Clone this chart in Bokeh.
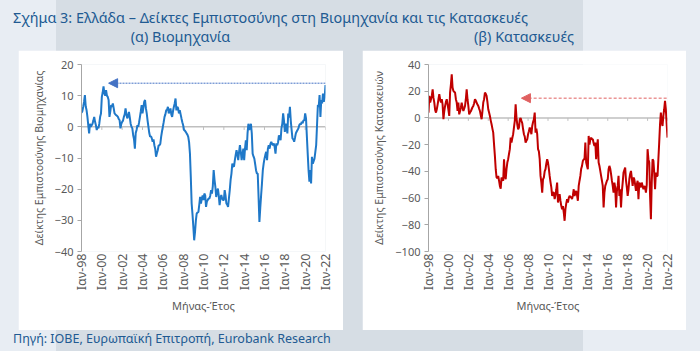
import math
from bokeh.plotting import figure
from bokeh.models import FixedTicker, Span, Arrow, NormalHead, Div, Spacer, Range1d
from bokeh.layouts import row, column
from bokeh.embed import file_html
from bokeh.resources import INLINE

# ---------------- data ----------------
main_title = "Σχήμα 3: Ελλάδα – Δείκτες Εμπιστοσύνης στη Βιομηχανία και τις Κατασκευές"
sub_a = "(α) Βιομηχανία"
sub_b = "(β) Κατασκευές"
source_text = "Πηγή: ΙΟΒΕ, Ευρωπαϊκή Επιτροπή, Eurobank Research"
x_title = "Μήνας-Έτος"
y_title_a = "Δείκτης Εμπιστοσύνης Βιομηχανίας"
y_title_b = "Δείκτης Εμπιστοσύνης Κατασκευών"

# x ticks: month index from Jan 1998 (every two years)
tick_idx = [0, 24, 48, 72, 96, 120, 144, 168, 192, 216, 240, 264, 288]
tick_labels = ["Ιαν-98", "Ιαν-00", "Ιαν-02", "Ιαν-04", "Ιαν-06", "Ιαν-08", "Ιαν-10",
               "Ιαν-12", "Ιαν-14", "Ιαν-16", "Ιαν-18", "Ιαν-20", "Ιαν-22"]

yticks_a = [-40, -30, -20, -10, 0, 10, 20]
yticks_b = [-100, -80, -60, -40, -20, 0, 20, 40]

# Industry confidence, monthly Jan-1998 .. Jan-2022
industry = [
    4.5, 5.0, 6.4, 8.0, 10.2, 6.5, 5.3, 3.2, 0.5, -2.1, 1.0, 0.0,          # 1998
    0.5, 1.0, 2.0, 3.2, 1.6, 0.5, -1.0, 0.0, -0.5, 1.0, 3.2, 4.3,          # 1999
    9.6, 11.0, 13.0, 10.7, 10.0, 11.8, 10.0, 9.6, 8.6, 3.2, 5.0, 7.0,      # 2000
    6.4, 7.5, 6.0, 4.3, 4.0, 3.7, 3.5, 3.2, 2.5, 2.1, -0.5, 1.0,           # 2001
    1.6, 2.0, 3.2, 4.0, 5.9, 4.0, 2.7, 3.5, 4.8, 3.0, 1.0, 0.0,            # 2002
    -0.5, -2.7, -4.0, -7.0, -2.0, -1.0, 0.5, 0.0, 1.5, 3.2, 5.0, 7.0,      # 2003
    4.3, 6.0, 8.0, 8.6, 6.0, 4.3, 2.0, 0.0, -2.0, -3.2, -3.0, -3.7,        # 2004
    -4.8, -4.0, -5.9, -7.0, -9.6, -8.5, -7.5, -6.0, -5.9, -5.5, -3.2, -1.5,  # 2005
    0.0, 1.5, 3.2, 4.0, 5.3, 5.5, 6.4, 4.3, 5.0, 5.9, 4.0, 3.2,            # 2006
    5.0, 6.4, 7.5, 9.1, 5.3, 6.4, 6.0, 4.3, 5.3, 4.0, 2.7, 1.5,            # 2007
    0.5, -1.0, -1.2, -1.6, -2.1, -2.5, -3.2, -5.0, -8.6, -16.0, -24.6, -28.0,  # 2008
    -32.0, -36.4, -33.7, -30.0, -27.8, -27.5, -27.3, -25.0, -22.5, -24.6, -23.0, -22.0,  # 2009
    -23.5, -21.4, -22.0, -25.7, -24.0, -23.5, -23.0, -23.0, -22.0, -20.3, -21.4, -19.0,  # 2010
    -13.9, -17.0, -19.3, -22.5, -21.0, -19.8, -22.0, -25.1, -23.0, -21.9, -23.0, -23.5,  # 2011
    -23.5, -20.3, -22.0, -24.6, -25.0, -25.7, -23.0, -20.3, -17.0, -15.0, -11.8, -12.5,  # 2012
    -12.8, -10.7, -9.0, -7.5, -9.0, -10.7, -8.0, -5.9, -8.0, -10.7, -9.0, -7.0,  # 2013
    -10.7, -7.0, -4.3, -7.5, -2.0, 1.0, -1.0, 0.0, 1.0, -2.1, -8.6, -9.5,  # 2014
    -10.2, -12.0, -13.9, -15.0, -15.0, -22.5, -30.5, -26.0, -22.0, -18.2, -14.0, -11.8,  # 2015
    -10.2, -9.0, -8.0, -10.7, -7.0, -5.9, -7.0, -5.5, -4.8, -5.5, -5.9, -5.3,  # 2016
    -6.5, -8.6, -5.3, -5.9, -5.0, -2.7, -3.5, -4.3, -0.5, 1.0, 4.3, 2.0,   # 2017
    -1.6, 1.0, 0.0, -2.1, 4.3, 3.0, 6.4, 2.0, -1.0, -3.7, -4.0, -4.8,      # 2018
    -3.5, -2.1, -1.5, -1.0, -0.5, 0.5, 1.0, 0.8, 1.6, 1.2, 2.1, 2.0,       # 2019
    4.3, 2.7, -3.0, -8.6, -13.9, -17.6, -13.9, -18.2, -9.6, -11.8, -11.0, -10.2,  # 2020
    -8.0, -5.9, 0.5, 7.0, 6.4, 10.2, 3.2, 8.6, 7.5, 10.7, 8.0, 9.5,        # 2021
    13.4,                                                                  # 2022
]

# Construction confidence, monthly Jan-1998 .. Jan-2022
construction = [
    4, 16.5, 11.5, 14, 16.5, 21.4, 15, 11.5, 6, 4, 6.5, 10,                # 1998
    14, 17.7, 14, 11.5, 14, 10, -1, 5, 9, 12, 14, 10.2,                    # 1999
    6, 1.5, 19, 25, 32.7, 22.7, 20.2, 19.5, 19, 14, 11.5, 5.2,             # 2000
    11.5, 2.7, 5, 7.7, 11.5, 8, 5.2, 7, 9, 14, 21.4, 14,                   # 2001
    9, 2.7, 4, 5, 6.5, 8, 9, 11, 14, 13, 11.5, 10,                         # 2002
    9, 7, 5.2, 2, -1, 5, 11.5, 14, 19, 18, 16.5, 12,                       # 2003
    6.5, 4, 1.5, -2, -4.7, -8, -11, -20, -28.4, -38.4, -44.6, -45,         # 2004
    -43.4, -47, -50.9, -53, -44.6, -46, -47, -30.9, -43.4, -45.9, -38.4, -33.4,  # 2005
    -30.9, -27, -23.4, -14.7, -18.5, -15, -12.2, -7, -2.2, 10.2, 0.2, -5,  # 2006
    -8.5, -7.2, -1, 0, -2.2, -4, -8.5, -12.2, -14, -18.5, -17, -16,        # 2007
    -12.2, -10, -7.2, -9, -12.2, -6, -3, -1, 4, -11, -8, -12.2,            # 2008
    -23.4, -25, -30.9, -43.4, -48.4, -55.9, -45.9, -44.6, -40, -38.4, -34, -30.9,  # 2009
    -33.4, -38, -43.4, -48, -52, -58.4, -56, -55.9, -60.8, -58, -53.4, -48.4,  # 2010
    -63.3, -60, -57.1, -62, -65.8, -68.3, -66, -70.8, -77, -68.3, -64, -60.8,  # 2011
    -63.3, -60, -58.4, -59, -59.6, -60.8, -58, -53.4, -58.4, -56, -54.6, -58,  # 2012
    -62, -50.9, -47, -43.4, -38, -35.9, -32.2, -31, -30.9, -18.5, -33.4, -36,  # 2013
    -38.4, -13.5, -20, -16, -14.7, -16, -16, -19, -21, -18.5, -30.9, -22,  # 2014
    -16, -33.4, -36, -39.7, -43.4, -47, -50.9, -67, -56, -50.9, -49, -47,  # 2015
    -45.9, -38.4, -35.9, -38, -42.1, -47, -50.9, -55.9, -48.4, -52, -67, -55,  # 2016
    -50.9, -43.4, -58.4, -53.4, -67, -55, -48.4, -40.9, -39, -37.2, -47, -52,  # 2017
    -58.4, -53.4, -45.9, -42, -39.7, -45, -50.9, -44.6, -45.9, -50, -54.6, -50,  # 2018
    -47, -60.8, -48.4, -50, -52, -48.4, -51, -53.4, -50.9, -52, -55.9, -50,  # 2019
    -23.4, -30.9, -33.4, -58.4, -75.8, -48.4, -30.9, -32, -40.9, -53.4, -40.9, -43.4,  # 2020
    -43.4, -30.9, -18.5, -4.7, 4, -3.5, -6, 1.5, 6.5, 12.7, 6.5, -4.7,     # 2021
    -14.7,                                                                 # 2022
]

# reference arrows (month index start -> end, level)
arrow_a = dict(x_start=288, x_end=32, y=14.0)
arrow_b = dict(x_start=287, x_end=112, y=14.8)

# ---------------- styling ----------------
FONT = "Noto Sans"
TXT = "#595959"
AX = "#a6a6a6"
TITLE_C = "#215a92"


def make_fig(values, color, yr, yticks, ytitle, arrow, arrow_color, arrow_dash,
             tick_len, width, min_left, min_right):
    p = figure(width=width, height=280, x_range=Range1d(0, 288), y_range=Range1d(*yr),
               output_backend="svg", toolbar_location=None,
               min_border_left=min_left, min_border_right=min_right,
               min_border_top=14, min_border_bottom=79)
    p.background_fill_color = "white"
    p.border_fill_color = "white"
    p.outline_line_color = None
    p.grid.visible = False

    yax = p.yaxis[0]
    yax.ticker = FixedTicker(ticks=yticks)
    yax.axis_line_color = AX
    yax.major_tick_line_color = AX
    yax.major_tick_out = 4
    yax.major_tick_in = 0
    yax.minor_tick_line_color = None
    yax.major_label_text_font = FONT
    yax.major_label_text_font_size = "11px"
    yax.major_label_text_color = TXT
    yax.major_label_standoff = 4
    yax.axis_label = ytitle
    yax.axis_label_text_font = FONT
    yax.axis_label_text_font_size = "10.5px"
    yax.axis_label_text_font_style = "normal"
    yax.axis_label_text_color = TXT
    yax.axis_label_standoff = 6

    xax = p.xaxis[0]
    xax.ticker = FixedTicker(ticks=tick_idx)
    xax.major_label_overrides = {t: l for t, l in zip(tick_idx, tick_labels)}
    xax.major_label_orientation = math.pi / 2
    xax.axis_line_color = None
    xax.major_tick_line_color = None
    xax.major_tick_out = 0
    xax.major_tick_in = 0
    xax.minor_tick_line_color = None
    xax.major_label_text_font = FONT
    xax.major_label_text_font_size = "12.5px"
    xax.major_label_text_color = TXT
    xax.major_label_standoff = 2
    xax.axis_label = x_title
    xax.axis_label_text_font = FONT
    xax.axis_label_text_font_size = "11px"
    xax.axis_label_text_font_style = "normal"
    xax.axis_label_text_color = TXT
    xax.axis_label_standoff = 5

    p.add_layout(Span(location=0, dimension="width", line_color="#bfbfbf",
                      line_width=1.5, level="underlay"))
    n = len(tick_idx)
    p.segment(x0=tick_idx, y0=[0] * n, x1=tick_idx, y1=[-tick_len] * n,
              line_color="#bfbfbf", line_width=1)

    xs = list(range(len(values)))
    p.line(xs, values, line_color=color, line_width=2)

    p.add_layout(Arrow(end=NormalHead(size=9, fill_color=arrow_color, line_color=arrow_color),
                       x_start=arrow["x_start"], y_start=arrow["y"],
                       x_end=arrow["x_end"], y_end=arrow["y"],
                       line_color=arrow_color, line_width=1, line_dash=arrow_dash))
    return p


left = make_fig(industry, "#1f78c8", (-40, 20), yticks_a, y_title_a, arrow_a,
                "#4472c4", "2 1", 1.0, 325, 63, 18)
right = make_fig(construction, "#c00000", (-100, 40), yticks_b, y_title_b, arrow_b,
                 "#e06060", "3 2", 2.2, 324, 66, 19)

title_html = (
    f'<div style="position:relative;width:700px;height:50px;font-family:\'{FONT}\';color:{TITLE_C};">'
    f'<div style="position:absolute;left:13px;top:9px;font-size:14.4px;line-height:18px;white-space:nowrap;">{main_title}</div>'
    f'<div style="position:absolute;left:18px;width:325px;top:28px;text-align:center;font-size:14.4px;line-height:18px;white-space:nowrap;">{sub_a}</div>'
    f'<div style="position:absolute;left:362px;width:324px;top:28px;text-align:center;font-size:14.4px;line-height:18px;white-space:nowrap;">{sub_b}</div>'
    '</div>'
)
title_div = Div(text=title_html, width=700, height=50, margin=0)

source_div = Div(
    text=(f'<div style="position:relative;width:700px;height:21px;font-family:\'{FONT}\';color:{TITLE_C};">'
          f'<div style="position:absolute;left:13px;top:1px;font-size:12.5px;line-height:16px;white-space:nowrap;">{source_text}</div></div>'),
    width=700, height=21, margin=0)

mid = row(Spacer(width=18, height=280), left, Spacer(width=19, height=280), right,
          Spacer(width=14, height=280))

page = column(title_div, mid, source_div, width=700, height=351,
              styles={"background": "linear-gradient(to right, #e8edf3 0px, #e8edf3 56px, "
                                    "#d6dde4 56px, #d6dde4 583px, #e8edf3 583px, #e8edf3 700px)"})

open("out.html", "w").write(file_html(page, INLINE))
